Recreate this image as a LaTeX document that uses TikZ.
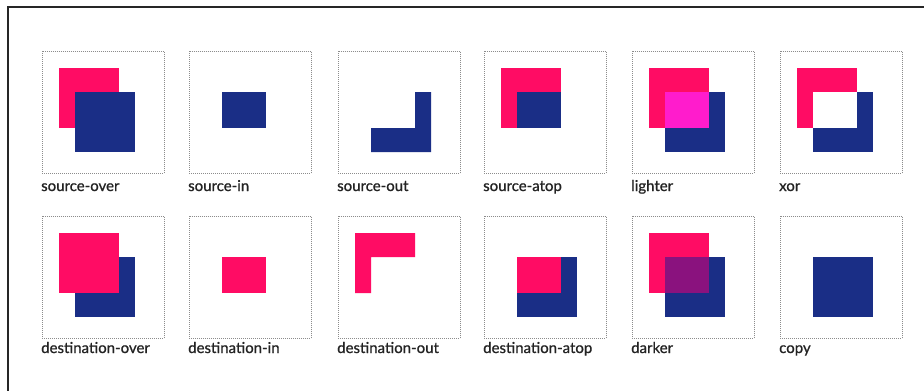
\documentclass[tikz,border=0pt]{standalone}
\usepackage{fontspec}
\setmainfont{Lato}
\newfontfamily\capfont{Lato}[FakeBold=0.9]
\definecolor{cmpink}{RGB}{255, 12, 100}
\definecolor{cmnavy}{RGB}{26, 46, 134}
\definecolor{cmlight}{RGB}{255, 28, 204}
\definecolor{cmdark}{RGB}{138, 18, 126}
\definecolor{cmtext}{RGB}{35, 35, 35}
\tikzset{
  panel/.style = {
    rectangle,
    draw=black!45,
    dash pattern=on 1pt off 1pt,
    line width=0.9pt,
    fill=white,
    minimum width=122pt,
    minimum height=122pt,
    inner sep=0pt,
    anchor=north west
  },
  srcfill/.style = {fill=cmpink},
  dstfill/.style = {fill=cmnavy},
  opname/.style = {
    anchor=base west,
    inner sep=0pt,
    text=cmtext,
    font=\capfont\fontsize{15}{17}\selectfont
  }
}

\begin{document}
\begin{tikzpicture}[x=1pt, y=-1pt]
  \useasboundingbox (0,0) rectangle (924,391);
  % outer frame (only top and left show)
  \draw[line width=1.2pt, color=black!85] (8,391) -- (8,7) -- (924,7);

  % ---- top row ----
  % source-over
  \begin{scope}[shift={(42,51)}]
    \node[panel] (srcover) at (0,0) {};
    \fill[srcfill] (17,17) rectangle (77,77);
    \fill[dstfill] (33,41) rectangle (93,101);
    \node[opname] (srcoverlbl) at (-1,140) {source-over};
  \end{scope}

  % source-in
  \begin{scope}[shift={(189,51)}]
    \node[panel] (srcin) at (0,0) {};
    \fill[dstfill] (33,41) rectangle (77,77);
    \node[opname] (srcinlbl) at (-1,140) {source-in};
  \end{scope}

  % source-out
  \begin{scope}[shift={(338,51)}]
    \node[panel] (srcout) at (0,0) {};
    \fill[dstfill] (33,77) -- (77,77) -- (77,41) -- (93,41) -- (93,101) -- (33,101) -- cycle;
    \node[opname] (srcoutlbl) at (-1,140) {source-out};
  \end{scope}

  % source-atop
  \begin{scope}[shift={(484,51)}]
    \node[panel] (srcatop) at (0,0) {};
    \fill[srcfill] (17,17) rectangle (77,77);
    \fill[dstfill] (33,41) rectangle (77,77);
    \node[opname] (srcatoplbl) at (-1,140) {source-atop};
  \end{scope}

  % lighter
  \begin{scope}[shift={(632,51)}]
    \node[panel] (lighter) at (0,0) {};
    \fill[srcfill] (17,17) rectangle (77,77);
    \fill[dstfill] (33,41) rectangle (93,101);
    \fill[cmlight] (33,41) rectangle (77,77);
    \node[opname] (lighterlbl) at (-1,140) {lighter};
  \end{scope}

  % xor
  \begin{scope}[shift={(780,51)}]
    \node[panel] (xor) at (0,0) {};
    \fill[srcfill] (17,17) rectangle (77,77);
    \fill[dstfill] (33,41) rectangle (93,101);
    \fill[white] (33,41) rectangle (77,77);
    \node[opname] (xorlbl) at (-1,140) {xor};
  \end{scope}

  % ---- bottom row ----
  % destination-over
  \begin{scope}[shift={(42,216)}]
    \node[panel] (dstover) at (0,0) {};
    \fill[dstfill] (33,41) rectangle (93,101);
    \fill[srcfill] (17,17) rectangle (77,77);
    \node[opname] (dstoverlbl) at (-1,137) {destination-over};
  \end{scope}

  % destination-in
  \begin{scope}[shift={(189,216)}]
    \node[panel] (dstin) at (0,0) {};
    \fill[srcfill] (33,41) rectangle (77,77);
    \node[opname] (dstinlbl) at (-1,137) {destination-in};
  \end{scope}

  % destination-out
  \begin{scope}[shift={(338,216)}]
    \node[panel] (dstout) at (0,0) {};
    \fill[srcfill] (17,17) -- (77,17) -- (77,41) -- (33,41) -- (33,77) -- (17,77) -- cycle;
    \node[opname] (dstoutlbl) at (-1,137) {destination-out};
  \end{scope}

  % destination-atop
  \begin{scope}[shift={(484,216)}]
    \node[panel] (dstatop) at (0,0) {};
    \fill[dstfill] (33,41) rectangle (93,101);
    \fill[srcfill] (33,41) rectangle (77,77);
    \node[opname] (dstatoplbl) at (-1,137) {destination-atop};
  \end{scope}

  % darker
  \begin{scope}[shift={(632,216)}]
    \node[panel] (darker) at (0,0) {};
    \fill[srcfill] (17,17) rectangle (77,77);
    \fill[dstfill] (33,41) rectangle (93,101);
    \fill[cmdark] (33,41) rectangle (77,77);
    \node[opname] (darkerlbl) at (-1,137) {darker};
  \end{scope}

  % copy
  \begin{scope}[shift={(780,216)}]
    \node[panel] (copy) at (0,0) {};
    \fill[dstfill] (33,41) rectangle (93,101);
    \node[opname] (copylbl) at (-1,137) {copy};
  \end{scope}
\end{tikzpicture}
\end{document}
